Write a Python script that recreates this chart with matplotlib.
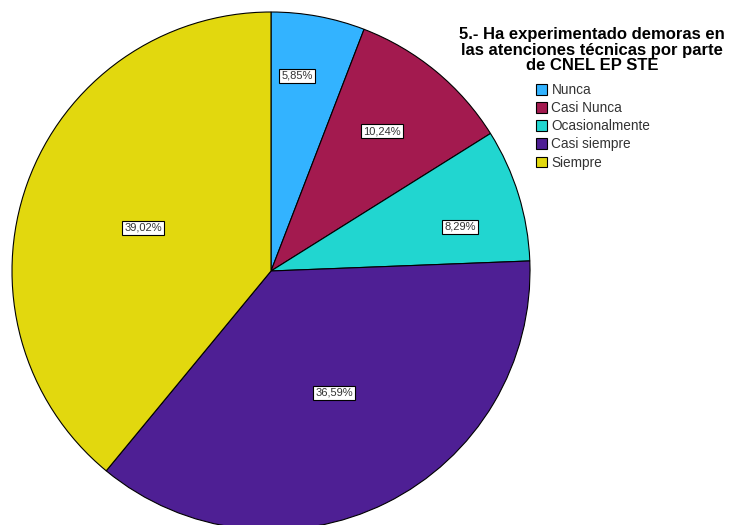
import numpy as np
import matplotlib.pyplot as plt

categories = ['Nunca', 'Casi Nunca', 'Ocasionalmente', 'Casi siempre', 'Siempre']
percent = [5.85, 10.24, 8.29, 36.59, 39.02]
colors = ['#33b3ff', '#a31a4f', '#21d6d0', '#4e1f94', '#e2d80e']
title = '5.- Ha experimentado demoras en\nlas atenciones técnicas por parte\nde CNEL EP STE'

# label placement: fraction of radius and angular nudge (deg) per slice
label_r = [0.76, 0.69, 0.75, 0.53, 0.52]
label_nudge = [3, 1, -4, 1, 1]

plt.rcParams['font.family'] = ['Liberation Sans', 'DejaVu Sans']

W, H = 729, 525
fig = plt.figure(figsize=(W / 100, H / 100), dpi=100)
cx, cy, rad = 271, 271, 259
ax = fig.add_axes([(cx - rad) / W, (H - cy - rad) / H, 2 * rad / W, 2 * rad / H])

wedges, _ = ax.pie(percent, colors=colors, startangle=90, counterclock=False,
                   wedgeprops=dict(edgecolor='black', linewidth=0.8))
ax.set_xlim(-1, 1)
ax.set_ylim(-1, 1)
ax.set_aspect('equal')
ax.axis('off')

start = 90.0
for p, r, nd in zip(percent, label_r, label_nudge):
    sweep = p / 100 * 360
    mid = np.radians(start - sweep / 2 + nd)
    start -= sweep
    ax.text(r * np.cos(mid), r * np.sin(mid), f'{p:.2f}%'.replace('.', ','),
            ha='center', va='center', fontsize=8, color='#333333',
            bbox=dict(boxstyle='square,pad=0.2', facecolor='white', edgecolor='black', linewidth=0.8))

fig.text(592 / W, 1 - 27 / H, title, ha='center', va='top', fontsize=12,
         fontweight='bold', linespacing=1.06, color='black')

leg = fig.legend(wedges, categories, loc='upper left', bbox_to_anchor=(529 / W, 1 - 76 / H),
                 frameon=False, fontsize=9.8, handlelength=0.85, handleheight=0.85,
                 handletextpad=0.3, labelspacing=0.31, borderpad=0)
for t in leg.get_texts():
    t.set_color('#333333')

fig.savefig('out.png', dpi=100)
